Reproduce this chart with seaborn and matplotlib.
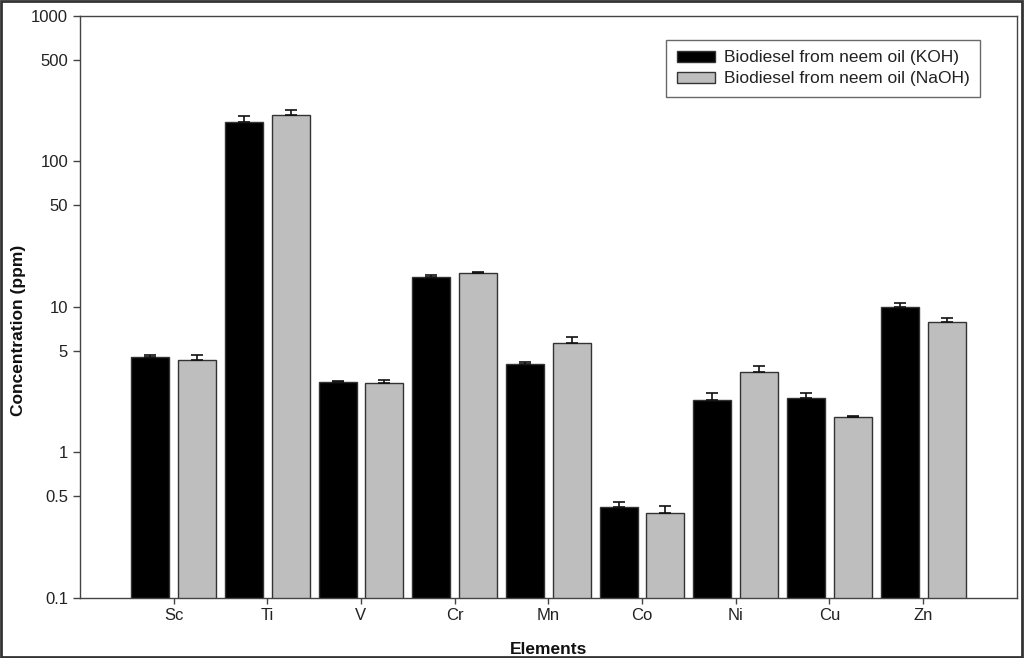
import seaborn as sns
import matplotlib.pyplot as plt
import pandas as pd
from matplotlib.patches import Rectangle

elements = ["Sc", "Ti", "V", "Cr", "Mn", "Co", "Ni", "Cu", "Zn"]
koh = [4.53, 186, 3.05, 16.1, 4.08, 0.419, 2.28, 2.36, 10.0]
naoh = [4.35, 208, 2.99, 17.0, 5.65, 0.383, 3.56, 1.75, 7.85]
koh_err = [0.12, 19, 0.06, 0.4, 0.08, 0.037, 0.27, 0.21, 0.72]
naoh_err = [0.30, 17, 0.18, 0.3, 0.60, 0.046, 0.34, 0.02, 0.54]
series = ["Biodiesel from neem oil (KOH)", "Biodiesel from neem oil (NaOH)"]
y_ticks = [0.1, 0.5, 1, 5, 10, 50, 100, 500, 1000]
y_tick_labels = ["0.1", "0.5", "1", "5", "10", "50", "100", "500", "1000"]

df = pd.DataFrame({
    "Elements": elements * 2,
    "Concentration": koh + naoh,
    "Catalyst": [series[0]] * len(elements) + [series[1]] * len(elements),
})

sns.set_style("ticks")
plt.rcParams["font.family"] = ["Liberation Sans", "DejaVu Sans"]

fig = plt.figure(figsize=(10.24, 6.58), dpi=100)
ax = fig.add_axes([0.078, 0.0912, 0.915, 0.8845])

sns.barplot(data=df, x="Elements", y="Concentration", hue="Catalyst",
            palette=["#000000", "#bebebe"], width=1.0, gap=0.19,
            edgecolor="#333333", linewidth=1.0, errorbar=None,
            log_scale=True, saturation=1, ax=ax)

# one-sided error bars on top of each bar
errs = koh_err + naoh_err
for i, bar in enumerate(ax.patches[:len(errs)]):
    xc = bar.get_x() + bar.get_width() / 2
    ax.errorbar(xc, bar.get_height(), yerr=[[0], [errs[i]]], fmt="none",
                ecolor="#111111", elinewidth=1.2, capsize=4, capthick=1.2)

ax.set_yscale("log")
ax.set_ylim(0.1, 1000)
ax.set_xlim(-1, len(elements))
ax.set_yticks(y_ticks)
ax.set_yticklabels(y_tick_labels)
ax.minorticks_off()
ax.tick_params(axis="y", labelsize=12, labelcolor="#222222", length=5, width=1,
               color="#444444", direction="out")
ax.tick_params(axis="x", labelsize=12, labelcolor="#222222", length=4, width=1,
               color="#444444", direction="out")
for sp in ax.spines.values():
    sp.set_color("#444444")
    sp.set_linewidth(1.0)

ax.set_xlabel("Elements", fontsize=12.5, fontweight="bold", color="#111111")
ax.set_ylabel("Concentration (ppm)", fontsize=12.5, fontweight="bold", color="#111111")
ax.xaxis.set_label_coords(0.5, -0.075)
ax.yaxis.set_label_coords(-0.057, 0.46)

leg = ax.legend(loc="upper right", bbox_to_anchor=(0.9605, 0.9588), fontsize=12.5,
                frameon=True, fancybox=False, edgecolor="#444444",
                borderaxespad=0, handlelength=2.2, handleheight=0.6,
                handletextpad=0.5, labelspacing=0.35, borderpad=0.6, title=None)
leg.get_frame().set_linewidth(1.0)
for t in leg.get_texts():
    t.set_color("#222222")

# outer frame around the figure
fig.patches.append(Rectangle((0.001, 0.002), 0.997, 0.996, transform=fig.transFigure,
                             fill=False, edgecolor="#333333", linewidth=2))

plt.savefig("out.png", dpi=100)
